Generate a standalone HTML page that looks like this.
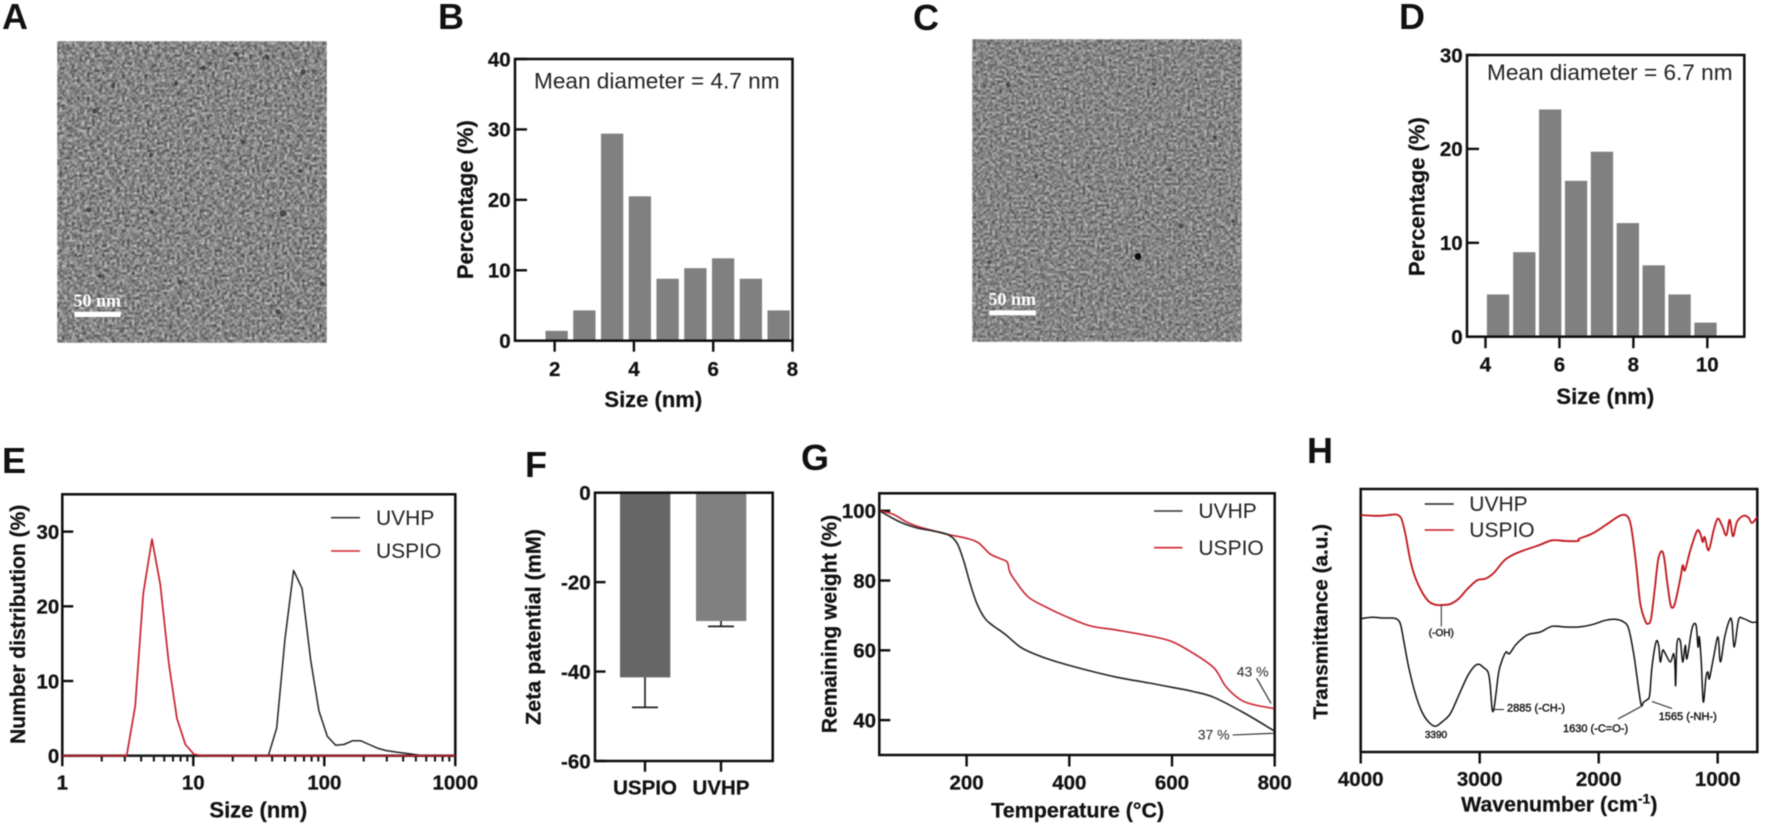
<!DOCTYPE html>
<html lang="en">
<head>
<meta charset="utf-8">
<title>Nanoparticle characterisation figure</title>
<style>
  html, body { margin: 0; padding: 0; background: #fff; width: 1772px; height: 832px; overflow: hidden; }
  svg { display: block; filter: blur(0.45px); }
  text { font-family: "Liberation Sans", sans-serif; fill: #111; }
  .panel { font-size: 36px; font-weight: bold; }
  .title { font-weight: bold; font-size: 22px; stroke: #111; stroke-width: 0.25; }
  .tick { font-weight: bold; font-size: 20.5px; stroke: #111; stroke-width: 0.25; }
  .legend { font-size: 21px; fill: #222; }
  .note { font-size: 14px; fill: #222; }
  .small { font-size: 11px; fill: #111; stroke: #111; stroke-width: 0.4; }
  .mean { font-size: 22.6px; fill: #222; }
  .bar-label { font-family: "Liberation Serif", serif; font-weight: bold; font-size: 18px; fill: #fff; }
</style>
</head>
<body>
<svg id="figure" xmlns="http://www.w3.org/2000/svg" width="1772" height="832" viewBox="0 0 1772 832">
  <defs>
    <filter id="grainA" filterUnits="userSpaceOnUse" x="57" y="41" width="270" height="302" color-interpolation-filters="sRGB">
      <feTurbulence type="fractalNoise" baseFrequency="0.4" numOctaves="3" seed="4"/>
      <feColorMatrix type="matrix" values="1.25 0 0 0 -0.105  1.25 0 0 0 -0.105  1.25 0 0 0 -0.105  0 0 0 0 1"/>
      <feGaussianBlur stdDeviation="0.75"/>
    </filter>
    <filter id="grainC" filterUnits="userSpaceOnUse" x="972" y="39" width="270" height="303" color-interpolation-filters="sRGB">
      <feTurbulence type="fractalNoise" baseFrequency="0.42" numOctaves="3" seed="11"/>
      <feColorMatrix type="matrix" values="1.15 0 0 0 -0.055  1.15 0 0 0 -0.055  1.15 0 0 0 -0.055  0 0 0 0 1"/>
      <feGaussianBlur stdDeviation="0.75"/>
    </filter>
  </defs>

  <!-- Panel letters -->
  <text class="panel" x="2" y="29">A</text>
  <text class="panel" x="438" y="29">B</text>
  <text class="panel" x="913" y="30">C</text>
  <text class="panel" x="1399" y="29">D</text>
  <text class="panel" x="2" y="473">E</text>
  <text class="panel" x="525" y="477">F</text>
  <text class="panel" x="801" y="470">G</text>
  <text class="panel" x="1307" y="463">H</text>

  <!-- Micrograph A -->
  <g>
    <rect x="57" y="41" width="270" height="302" fill="#858585" filter="url(#grainA)"/>
    <g fill="#333" opacity="0.75">
      <circle cx="113" cy="86" r="2.2"/><circle cx="176" cy="84" r="2.2"/><circle cx="204" cy="68" r="2.4"/>
      <circle cx="236" cy="54" r="2.4"/><circle cx="267" cy="57" r="2.4"/><circle cx="303" cy="72" r="2.6"/>
      <circle cx="95" cy="111" r="2.6"/><circle cx="151" cy="155" r="2"/><circle cx="243" cy="142" r="2.2"/>
      <circle cx="300" cy="171" r="2"/><circle cx="89" cy="210" r="2.5"/><circle cx="152" cy="212" r="2"/>
      <circle cx="283" cy="213" r="3"/><circle cx="100" cy="276" r="2"/><circle cx="180" cy="282" r="2"/>
      <circle cx="278" cy="312" r="2.5"/><circle cx="322" cy="284" r="2.4"/>
    </g>
    <rect x="74.3" y="311.7" width="46.4" height="5.3" fill="#fff"/>
    <text class="bar-label" x="73.5" y="306.5">50 nm</text>
  </g>

  <!-- Micrograph C -->
  <g>
    <rect x="972" y="39" width="270" height="303" fill="#858585" filter="url(#grainC)"/>
    <circle cx="1138" cy="256.5" r="3.4" fill="#0c0c0c"/>
    <g fill="#333" opacity="0.7">
      <circle cx="1008" cy="85" r="2.4"/><circle cx="1154" cy="84" r="2"/><circle cx="1215" cy="138" r="2"/>
      <circle cx="1181" cy="226" r="2.5"/><circle cx="1233" cy="221" r="2"/><circle cx="1036" cy="176" r="2"/>
      <circle cx="990" cy="262" r="2"/><circle cx="1170" cy="170" r="2"/>
    </g>
    <rect x="989.3" y="310.3" width="46.7" height="5" fill="#fff"/>
    <text class="bar-label" x="988.5" y="305">50 nm</text>
  </g>

  <!-- Chart groups, filled by the script -->
  <g id="chartB"></g>
  <g id="chartD"></g>
  <g id="chartE"></g>
  <g id="chartF"></g>
  <g id="chartG"></g>
  <g id="chartH"></g>

  <!-- Titles and annotations -->
  <text class="mean" x="534" y="88.5">Mean diameter = 4.7 nm</text>
  <text class="mean" x="1487" y="80">Mean diameter = 6.7 nm</text>

  <text class="title" x="653.3" y="407" text-anchor="middle" font-size="22.5">Size (nm)</text>
  <text class="title" transform="translate(473,199.7) rotate(-90)" text-anchor="middle">Percentage (%)</text>
  <text class="title" x="1605.3" y="404" text-anchor="middle">Size (nm)</text>
  <text class="title" transform="translate(1424.7,196.7) rotate(-90)" text-anchor="middle">Percentage (%)</text>
  <text class="title" x="258.3" y="817.5" text-anchor="middle">Size (nm)</text>
  <text class="title" style="font-size:21px" transform="translate(25,624.3) rotate(-90)" text-anchor="middle">Number distribution (%)</text>
  <text class="title" style="font-size:21.5px" transform="translate(540.7,627) rotate(-90)" text-anchor="middle">Zeta patential (mM)</text>
  <text class="title" style="font-size:21.5px" x="1077.7" y="817.5" text-anchor="middle">Temperature (°C)</text>
  <text class="title" style="font-size:21px" transform="translate(836.7,624) rotate(-90)" text-anchor="middle">Remaining weight (%)</text>
  <text class="title" style="font-size:21.3px" x="1559.3" y="811.7" text-anchor="middle">Wavenumber (cm<tspan dy="-8" font-size="14">-1</tspan><tspan dy="8">)</tspan></text>
  <text class="title" style="font-size:20.7px" transform="translate(1327.3,621.7) rotate(-90)" text-anchor="middle">Transmittance (a.u.)</text>

  <!-- Legends -->
  <g>
    <line x1="331" y1="517.7" x2="360" y2="517.7" stroke="#333" stroke-width="1.6"/>
    <text class="legend" x="376" y="525">UVHP</text>
    <line x1="331" y1="551" x2="360" y2="551" stroke="#d3222d" stroke-width="1.6"/>
    <text class="legend" x="376" y="558">USPIO</text>
  </g>
  <g>
    <line x1="1154" y1="511" x2="1182.5" y2="511" stroke="#333" stroke-width="1.6"/>
    <text class="legend" x="1198.4" y="518">UVHP</text>
    <line x1="1154" y1="547.7" x2="1182.5" y2="547.7" stroke="#d3222d" stroke-width="1.6"/>
    <text class="legend" x="1198.4" y="555">USPIO</text>
  </g>
  <g>
    <line x1="1424.7" y1="504" x2="1453.7" y2="504" stroke="#222" stroke-width="1.4"/>
    <text class="legend" x="1469.3" y="511">UVHP</text>
    <line x1="1424.7" y1="530" x2="1453.7" y2="530" stroke="#c4161c" stroke-width="1.4"/>
    <text class="legend" x="1469.3" y="537">USPIO</text>
  </g>

  <!-- Panel G annotations -->
  <g>
    <text class="note" x="1236.7" y="676.7">43 %</text>
    <line x1="1256.7" y1="678.3" x2="1271" y2="703.3" stroke="#222" stroke-width="1.1"/>
    <text class="note" x="1197.7" y="739.3">37 %</text>
    <line x1="1232.7" y1="735" x2="1273.3" y2="733.3" stroke="#222" stroke-width="1.1"/>
  </g>

  <!-- Panel H annotations -->
  <g>
    <line x1="1441.3" y1="605" x2="1441.3" y2="626.5" stroke="#222" stroke-width="1"/>
    <text class="small" x="1441.3" y="636" text-anchor="middle" style="font-size:10px">(-OH)</text>
    <text class="small" x="1436" y="738" text-anchor="middle" style="font-size:10px">3390</text>
    <line x1="1494" y1="709.5" x2="1504" y2="709.5" stroke="#222" stroke-width="1"/>
    <text class="small" x="1507" y="711.5">2885 (-CH-)</text>
    <line x1="1618" y1="719" x2="1642" y2="706" stroke="#222" stroke-width="1"/>
    <text class="small" x="1563" y="732">1630 (-C=O-)</text>
    <line x1="1652" y1="701.5" x2="1672" y2="708.5" stroke="#222" stroke-width="1"/>
    <text class="small" x="1658.7" y="720">1565 (-NH-)</text>
  </g>
</svg>

<script>
// ---------- Panel B ----------
const bBinCenters = [2.05, 2.75, 3.45, 4.15, 4.85, 5.55, 6.25, 6.95, 7.65];
const bPercentages = [1.4, 4.3, 29.4, 20.5, 8.8, 10.3, 11.7, 8.8, 4.3];
const bXTicks = [2, 4, 6, 8];
const bYTicks = [0, 10, 20, 30, 40];

// ---------- Panel D ----------
const dBinCenters = [4.34, 5.05, 5.75, 6.45, 7.15, 7.85, 8.55, 9.25, 9.95];
const dPercentages = [4.5, 9.0, 24.2, 16.6, 19.7, 12.1, 7.6, 4.5, 1.5];
const dXTicks = [4, 6, 8, 10];
const dYTicks = [0, 10, 20, 30];

// ---------- Panel E ----------
const eUspioSize = [1, 3.1, 3.6, 4.15, 4.84, 5.6, 6.5, 7.5, 8.7, 10.1, 11.6, 1000];
const eUspioPercent = [0, 0, 6.6, 21.7, 29, 22.9, 12.4, 5, 1.5, 0.2, 0, 0];
const eUvhpSize = [1, 37.4, 43.3, 50, 58.3, 67.6, 78.7, 91, 105.4, 122, 141, 164, 190, 220, 255, 295, 350, 474, 570, 1000];
const eUvhpPercent = [0, 0, 3.7, 15.5, 24.8, 22.4, 12.8, 6, 2.6, 1.4, 1.5, 2.0, 2.0, 1.5, 1.0, 0.7, 0.5, 0.2, 0, 0];
const eXTicks = [1, 10, 100, 1000];
const eXTickLabels = ['1', '10', '100', '1000'];
const eMinorMultipliers = [2, 3, 4, 5, 6, 7, 8, 9];
const eYTicks = [0, 10, 20, 30];

// ---------- Panel F ----------
const fCategories = ['USPIO', 'UVHP'];
const fMeans = [-41.3, -28.7];
const fErrorEnds = [-48, -29.9];
const fYTicks = [0, -20, -40, -60];

// ---------- Panel G ----------
const gUvhpTemp = [31, 70, 103, 135, 164, 181, 194, 207, 220, 236, 252, 275, 304, 330, 369, 427, 492, 557, 600, 641, 682, 741, 798];
const gUvhpWeight = [99.9, 96.8, 95.1, 94.2, 93.1, 90.8, 85.8, 79.1, 73.4, 69.1, 67, 64.6, 61, 59.1, 57, 54.6, 52.3, 50.6, 49.4, 48.2, 46.5, 42, 37];
const gUspioTemp = [31, 57, 83, 109, 135, 164, 200, 223, 245, 265, 279, 284, 294, 320, 356, 395, 441, 492, 557, 600, 642, 682, 705, 734, 760, 799];
const gUspioWeight = [100, 99, 96.8, 95.3, 94.3, 93.2, 92.1, 90.8, 87.7, 86.3, 85.3, 82.5, 80.1, 75.3, 72.3, 69.6, 67, 65.8, 64.1, 62.5, 59.1, 54.9, 49.6, 45.8, 44.4, 43.3];
const gXTicks = [200, 400, 600, 800];
const gYTicks = [40, 60, 80, 100];

// ---------- Panel H ----------
const hUspioWave = [4000, 3905, 3821, 3737, 3695, 3658, 3625, 3583, 3541, 3485, 3429, 3373, 3317, 3247, 3176, 3106, 3022, 2952, 2882, 2798, 2728, 2644, 2504, 2392, 2280, 2174, 2163, 2056, 1944, 1832, 1776, 1742, 1720, 1686, 1650, 1608, 1586, 1560, 1530, 1501, 1473, 1451, 1426, 1398, 1378, 1356, 1314, 1294, 1275, 1230, 1174, 1146, 1126, 1109, 1076, 1034, 1000, 964, 927, 899, 871, 838, 782, 740, 712, 667];
const hUspioTrans = [237, 236.3, 236.3, 237.3, 237.3, 233.3, 218.3, 191.7, 174.3, 160, 150.7, 147.3, 147, 148, 153.3, 162.7, 171.7, 173.3, 179, 191, 196.7, 201, 206.7, 211.7, 211, 211, 213.3, 218.3, 226.7, 235.7, 237, 232.3, 220, 188.3, 148.3, 131, 128.3, 133.3, 161.7, 191.7, 200.7, 195, 171.7, 148.3, 144.3, 150, 173.3, 186.7, 181.7, 201.7, 221, 218.3, 210, 215, 201.7, 221.7, 233.3, 226.7, 216.7, 232.3, 215.7, 230, 236.3, 234.3, 229, 235];
const hUvhpWave = [4000, 3905, 3821, 3751, 3703, 3667, 3639, 3597, 3541, 3485, 3429, 3373, 3317, 3247, 3176, 3106, 3050, 3008, 2966, 2930, 2913, 2896, 2882, 2863, 2840, 2812, 2779, 2751, 2700, 2644, 2588, 2490, 2392, 2280, 2168, 2056, 1944, 1860, 1790, 1748, 1706, 1678, 1644, 1622, 1594, 1572, 1552, 1518, 1496, 1482, 1462, 1440, 1398, 1370, 1359, 1353, 1342, 1314, 1294, 1272, 1258, 1216, 1182, 1165, 1154, 1137, 1121, 1098, 1081, 1070, 1034, 997, 977, 941, 899, 880, 860, 824, 782, 712, 667];
const hUvhpTrans = [133.3, 134.7, 134, 134, 133.3, 128.3, 111.7, 85, 58.3, 40, 30, 25.7, 30, 38.3, 56.7, 75, 85, 87.7, 84.3, 80, 68.3, 43.3, 42.3, 58.3, 80, 91.7, 100, 98.3, 106.7, 113.3, 117.7, 120, 125.7, 125, 125, 127.3, 131.7, 132.7, 130, 123.3, 98.3, 75, 47.7, 50, 52.3, 56.7, 85, 110, 106.7, 90, 101.7, 98.3, 90, 98.3, 86.7, 66.7, 108.3, 111, 90, 106.7, 93.3, 123.3, 127, 105, 115, 88.3, 50, 75, 80, 73.3, 95, 115, 90, 115, 132.3, 130, 105, 132.3, 133.3, 129.7, 130.3];
const hXTicks = [4000, 3000, 2000, 1000];

// ---------- Helpers ----------
const NS = 'http://www.w3.org/2000/svg';

function make(tag, attrs, parent) {
  const el = document.createElementNS(NS, tag);
  for (const k in attrs) el.setAttribute(k, attrs[k]);
  parent.appendChild(el);
  return el;
}
function linear(d0, d1, r0, r1) {
  return v => r0 + (v - d0) * (r1 - r0) / (d1 - d0);
}
function logScale(d0, d1, r0, r1) {
  return v => r0 + (Math.log10(v) - Math.log10(d0)) * (r1 - r0) / (Math.log10(d1) - Math.log10(d0));
}
function drawFrame(parent, name, left, top, right, bottom) {
  const el = make('rect', { x: left, y: top, width: right - left, height: bottom - top, fill: 'none', stroke: '#0c0c0c', 'stroke-width': 2.5 }, parent);
  
  
}
function drawYAxis(parent, name, ticks, y, left, labelRight, len) {
  ticks.forEach(t => {
    const line = make('line', { x1: left, x2: left + len, y1: y(t), y2: y(t), stroke: '#0c0c0c', 'stroke-width': 2.4 }, parent);
    
    
    const label = make('text', { x: labelRight, y: y(t) + 7.3, 'text-anchor': 'end', class: 'tick' }, parent);
    label.textContent = String(t);
    
    
  });
}
function drawXAxis(parent, name, ticks, labels, x, bottom, baseline, len) {
  ticks.forEach((t, i) => {
    const line = make('line', { x1: x(t), x2: x(t), y1: bottom, y2: bottom + len, stroke: '#0c0c0c', 'stroke-width': 2.4 }, parent);
    
    
    const label = make('text', { x: x(t), y: baseline, 'text-anchor': 'middle', class: 'tick' }, parent);
    label.textContent = labels[i];
    
    
  });
}
function drawHistogram(parent, name, centers, values, x, y, barWidth) {
  centers.forEach((c, i) => {
    const top = y(values[i]);
    const bar = make('rect', { x: x(c) - barWidth / 2, y: top, width: barWidth, height: y(0) - top, fill: '#808080' }, parent);
    
    
  });
}
function drawLine(parent, name, xs, ys, x, y, color, width, smooth) {
  const px = xs.map(v => x(v));
  const py = ys.map(v => y(v));
  let d = 'M' + px[0].toFixed(2) + ' ' + py[0].toFixed(2);
  for (let i = 1; i < px.length; i++) {
    if (smooth) {
      const a = Math.max(i - 2, 0);
      const b = Math.min(i + 1, px.length - 1);
      const c1x = px[i - 1] + (px[i] - px[a]) / 6;
      const c1y = py[i - 1] + (py[i] - py[a]) / 6;
      const c2x = px[i] - (px[b] - px[i - 1]) / 6;
      const c2y = py[i] - (py[b] - py[i - 1]) / 6;
      d += ' C' + c1x.toFixed(2) + ' ' + c1y.toFixed(2) + ' ' + c2x.toFixed(2) + ' ' + c2y.toFixed(2) + ' ' + px[i].toFixed(2) + ' ' + py[i].toFixed(2);
    } else {
      d += ' L' + px[i].toFixed(2) + ' ' + py[i].toFixed(2);
    }
  }
  const path = make('path', { d: d, fill: 'none', stroke: color, 'stroke-width': width, 'stroke-linejoin': 'round' }, parent);
  
  
}

// ---------- Panel B drawing ----------
(function () {
  const g = document.getElementById('chartB');
  const x = linear(1, 8, 515, 792.5);
  const y = linear(0, 40, 340.7, 59);
  drawHistogram(g, 'histogram-b', bBinCenters, bPercentages, x, y, 22.3);
  drawFrame(g, 'histogram-b', 515, 59, 792.5, 340.7);
  drawYAxis(g, 'histogram-b', bYTicks, y, 515, 510.7, 12);
  drawXAxis(g, 'histogram-b', bXTicks, bXTicks.map(String), x, 340.7, 376, 11);
})();

// ---------- Panel D drawing ----------
(function () {
  const g = document.getElementById('chartD');
  const x = linear(3.5, 11, 1467, 1744.3);
  const y = linear(0, 30, 336.7, 55);
  drawHistogram(g, 'histogram-d', dBinCenters, dPercentages, x, y, 22.3);
  drawFrame(g, 'histogram-d', 1467, 55, 1744.3, 336.7);
  drawYAxis(g, 'histogram-d', dYTicks, y, 1467, 1462.7, 12);
  drawXAxis(g, 'histogram-d', dXTicks, dXTicks.map(String), x, 336.7, 371.7, 11.5);
})();

// ---------- Panel E drawing ----------
(function () {
  const g = document.getElementById('chartE');
  const x = logScale(1, 1000, 62.3, 455.3);
  const y = linear(0, 35, 755.7, 494.3);
  drawFrame(g, 'distribution-e', 62.3, 494.3, 455.3, 755.7);
  drawYAxis(g, 'distribution-e', eYTicks, y, 62.3, 59.3, 11);
  drawXAxis(g, 'distribution-e', eXTicks, eXTickLabels, x, 755.7, 789.3, 10.5);
  [1, 10, 100].forEach(decade => {
    eMinorMultipliers.forEach(m => {
      const minor = make('line', { x1: x(decade * m), x2: x(decade * m), y1: 755.7, y2: 761.5, stroke: '#0c0c0c', 'stroke-width': 2 }, g);
      
      
    });
  });
  drawLine(g, 'uvhp-size-curve', eUvhpSize, eUvhpPercent, x, y, '#222', 1.5, false);
  drawLine(g, 'uspio-size-curve', eUspioSize, eUspioPercent, x, y, '#c8202c', 1.7, false);
})();

// ---------- Panel F drawing ----------
(function () {
  const g = document.getElementById('chartF');
  const y = linear(-60, 0, 761, 492.7);
  const x = i => 645 + i * 76;
  const fills = ['#666666', '#808080'];
  fCategories.forEach((c, i) => {
    const bar = make('rect', { x: x(i) - 25, y: y(0), width: 50.3, height: y(fMeans[i]) - y(0), fill: fills[i] }, g);
    
    
    const stem = make('line', { x1: x(i), x2: x(i), y1: y(fMeans[i]), y2: y(fErrorEnds[i]), stroke: '#222', 'stroke-width': 1.7 }, g);
    
    
    const cap = make('line', { x1: x(i) - 13, x2: x(i) + 13, y1: y(fErrorEnds[i]), y2: y(fErrorEnds[i]), stroke: '#222', 'stroke-width': 1.7 }, g);
    
    
  });
  drawFrame(g, 'zeta-f', 595, 492.7, 772.7, 761);
  drawYAxis(g, 'zeta-f', fYTicks, y, 595, 590.7, 10.5);
  drawXAxis(g, 'zeta-f', [0, 1], fCategories, x, 761, 794.3, 10.7);
})();

// ---------- Panel G drawing ----------
(function () {
  const g = document.getElementById('chartG');
  const x = linear(30, 800, 879.3, 1274.7);
  const y = linear(30, 105, 755, 493.3);
  drawFrame(g, 'tga-g', 879.3, 493.3, 1274.7, 755);
  drawYAxis(g, 'tga-g', gYTicks, y, 879.3, 876, 11);
  drawXAxis(g, 'tga-g', gXTicks, gXTicks.map(String), x, 755, 789.3, 11.5);
  drawLine(g, 'uspio-weight-curve', gUspioTemp, gUspioWeight, x, y, '#c8202c', 1.6, true);
  drawLine(g, 'uvhp-weight-curve', gUvhpTemp, gUvhpWeight, x, y, '#222', 1.6, true);
})();

// ---------- Panel H drawing ----------
(function () {
  const g = document.getElementById('chartH');
  const x = linear(4000, 667, 1360.7, 1757.3);
  const y = linear(0, 263, 752, 489);
  drawFrame(g, 'ftir-h', 1360.7, 489, 1757.3, 752);
  drawXAxis(g, 'ftir-h', hXTicks, hXTicks.map(String), x, 752, 786, 11.5);
  drawLine(g, 'uspio-ftir-spectrum', hUspioWave, hUspioTrans, x, y, '#c0141a', 1.8, true);
  drawLine(g, 'uvhp-ftir-spectrum', hUvhpWave, hUvhpTrans, x, y, '#111', 1.5, true);
})();
</script>
</body>
</html>
